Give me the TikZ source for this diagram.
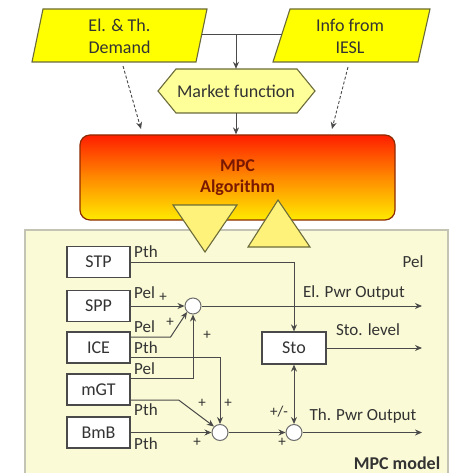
\documentclass[tikz,border=0pt]{standalone}
\usepackage{fontspec}
\setmainfont{Carlito}
\usetikzlibrary{arrows.meta,calc}

\definecolor{paraYellow}{HTML}{FFFF00}
\definecolor{hexYellow}{HTML}{FFFF99}
\definecolor{triYellow}{HTML}{FFF27A}
\definecolor{olive}{HTML}{6B6B3A}
\definecolor{panelFill}{HTML}{FAFAD6}
\definecolor{panelLine}{HTML}{C4C4B4}
\definecolor{wireGray}{HTML}{4A4A4A}
\definecolor{txtGray}{HTML}{333333}
\definecolor{mpcRed}{HTML}{FF1E00}
\definecolor{mpcOrange}{HTML}{FF8A00}
\definecolor{mpcYellow}{HTML}{FFEA00}
\definecolor{mpcEdge}{HTML}{8E2A00}
\definecolor{mpcText}{HTML}{7A1800}

\tikzset{
  txt/.style={font=\fontsize{18}{22}\selectfont, text=txtGray, align=center, inner sep=0pt},
  lbl/.style={font=\fontsize{17}{20}\selectfont, text=txtGray, inner sep=0pt},
  sgn/.style={font=\fontsize{15}{18}\selectfont, text=txtGray, inner sep=0pt},
  para/.style={draw=olive, line width=1.1pt, fill=paraYellow},
  hexa/.style={draw=olive, line width=1.1pt, fill=hexYellow},
  tri/.style={draw=olive, line width=1.1pt, fill=triYellow},
  blk/.style={draw=wireGray, line width=1.2pt, fill=white, minimum width=63pt,
              minimum height=31pt, font=\fontsize{18}{22}\selectfont, text=txtGray},
  sumc/.style={circle, draw=wireGray!80, line width=1pt, fill=white, minimum size=16pt, inner sep=0pt},
  wire/.style={draw=wireGray, line width=1pt},
  arr/.style={wire, -{Stealth[length=7pt,width=6pt]}},
  darr/.style={wire, {Stealth[length=7pt,width=6pt]}-{Stealth[length=7pt,width=6pt]}},
  dasharr/.style={draw=wireGray, line width=0.9pt, dash pattern=on 3pt off 2pt,
                  -{Stealth[length=7pt,width=6pt]}},
  mpcbox/.style={draw=mpcEdge, line width=1.2pt, rounded corners=10pt,
                 top color=mpcRed, bottom color=mpcYellow, middle color=mpcOrange,
                 minimum width=315pt, minimum height=85pt,
                 font=\bfseries\fontsize{18}{21}\selectfont, text=mpcText, align=center}
}

\begin{document}
\begin{tikzpicture}[x=1pt,y=-1pt]
\useasboundingbox (0,0) rectangle (454,473);

% model panel
\fill[panelFill] (25,230) rectangle (448,474);
\draw[panelLine, line width=1.2pt] (25,474) -- (25,230) -- (448,230) -- (448,474);

% optimiser block
\node[mpcbox] (mpc) at (237.5,177.5) {MPC\\Algorithm};

% exchange triangles between optimiser and model
\draw[tri] (173,205) -- (237,205) -- (205,252) -- cycle;
\draw[tri] (278,200) -- (310,247) -- (248,247) -- cycle;

% input parallelograms
\draw[para] (43,9) -- (207,9) -- (196,62) -- (32,62) -- cycle;
\draw[para] (290,9) -- (430,9) -- (418,62) -- (273,62) -- cycle;
\node[txt] (dem) at (119.5,36) {El. \& Th.\\Demand};
\node[txt] (iesl) at (350,36) {Info from\\IESL};

% market function hexagon
\draw[hexa] (158,91) -- (176,69) -- (297,69) -- (315,91) -- (297,113) -- (176,113) -- cycle;
\node[txt, minimum height=44pt] (mkt) at (236,91) {Market function};

% top connectors
\coordinate (demR) at (201.6,35);
\coordinate (ieslL) at (281.7,35);
\coordinate (join) at (236,35);
\draw[wire] (demR) -- (ieslL);
\draw[arr] (join) -- (mkt.north);
\draw[arr] (mkt.south) -- (mpc.north -| mkt.south);
\coordinate (demB) at (123,66);
\coordinate (demT) at (141,129);
\coordinate (ieslB) at (348,67);
\coordinate (ieslT) at (332,129);
\draw[dasharr] (demB) -- (demT);
\draw[dasharr] (ieslB) -- (ieslT);

% generation units
\node[blk] (stp) at (98.5,262) {STP};
\node[blk] (spp) at (98.5,306) {SPP};
\node[blk] (ice) at (98.5,347.5) {ICE};
\node[blk] (mgt) at (98.5,389.5) {mGT};
\node[blk] (bmb) at (98.5,432.5) {BmB};
\node[blk, minimum width=64pt, minimum height=32pt] (sto) at (294,348) {Sto};

% summing junctions
\node[sumc] (c1) at (193,306) {};
\node[sumc] (c2) at (220,432.5) {};
\node[sumc] (c3) at (294,432.5) {};

% output end points
\coordinate (o1) at (422,306);
\coordinate (o2) at (422,348);
\coordinate (o3) at (422,432.5);

% signal flow
\draw[arr] (stp.east) -| (sto.north);
\draw[arr] (spp.east) -- (c1.west);
\draw[arr] ($(ice.east)+(0,-10.5)$) -- ++(40,0) -- (c1.south west);
\draw[arr] ($(ice.east)+(0,9.5)$) -| (c2.north);
\draw[arr] ($(mgt.east)+(0,-11.5)$) -| (c1.south);
\draw[arr] ($(mgt.east)+(0,10.5)$) -- ++(48,0) -- (c2.north west);
\draw[arr] (bmb.east) -- (c2.west);
\draw[arr] (c2.east) -- (c3.west);
\draw[darr] (sto.south) -- (c3.north);
\draw[arr] (c1.east) -- (o1);
\draw[arr] (sto.east) -- (o2);
\draw[arr] (c3.east) -- (o3);

% signal labels
\node[lbl, anchor=west] (l1) at (134,252) {Pth};
\node[lbl, anchor=west] (l2) at (134,293) {Pel};
\node[lbl, anchor=west] (l3) at (134,327) {Pel};
\node[lbl, anchor=west] (l4) at (134,348) {Pth};
\node[lbl, anchor=west] (l5) at (134,369) {Pel};
\node[lbl, anchor=west] (l6) at (134,410) {Pth};
\node[lbl, anchor=west] (l7) at (134,444) {Pth};
\node[lbl] (l8) at (413,262) {Pel};
\node[lbl] (elout) at (354,293) {El. Pwr Output};
\node[lbl] (stolvl) at (368,330) {Sto. level};
\node[lbl] (thout) at (363,416) {Th. Pwr Output};

% signs at the junctions
\node[sgn] at (163,297) {+};
\node[sgn] at (170,322) {+};
\node[sgn] at (207,335) {+};
\node[sgn] at (202,403) {+};
\node[sgn] at (228,403) {+};
\node[sgn] at (197,442) {+};
\node[sgn] at (282,442) {+};
\node[sgn] at (279,412) {+/-};

\node[font=\bfseries\fontsize{18}{21}\selectfont, text=txtGray, inner sep=0pt] (model) at (397,463) {MPC model};
\end{tikzpicture}
\end{document}
